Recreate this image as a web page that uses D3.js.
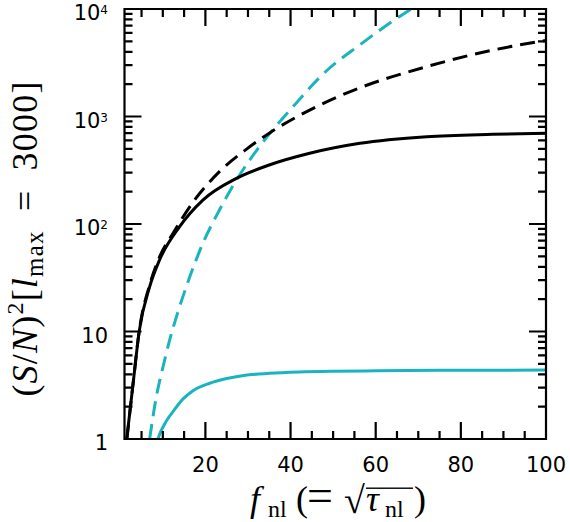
<!DOCTYPE html>
<html>
<head>
<meta charset="utf-8">
<script src="https://cdn.jsdelivr.net/npm/d3@7"></script>
<style>
  html, body { margin: 0; padding: 0; background: #fff; }
  svg { display: block; }
</style>
</head>
<body>
<svg id="chart" width="570" height="522"></svg>
<script>
// ---------------- data ----------------
const xTickValues = [20, 40, 60, 80, 100];
const xTickLabels = ["20", "40", "60", "80", "100"];
const yTickValues = [1, 10, 100, 1000, 10000];
const yTickBase = ["1", "10", "10", "10", "10"];
const yTickExp = ["", "", "2", "3", "4"];
const xMajorTicks = [20, 40, 60, 80];
const xMinorTicks = [5, 10, 15, 25, 30, 35, 45, 50, 55, 65, 70, 75, 85, 90, 95];
const yMajorTicks = [10, 100, 1000];

const blackSolidF = [1.55, 1.95, 2.95, 4.5, 6.9, 9.2, 13.9, 19.4, 27.3, 35, 44.5, 56.3, 72, 87.5, 100];
const blackSolidV = [1, 1.4, 3.1, 10.3, 26, 46, 94, 167, 266, 354, 455, 563, 649, 683, 700];
const blackDashF = [1.55, 2.95, 4.5, 6.9, 9.2, 12.4, 17.1, 23.3, 29.6, 35, 44.5, 56.3, 71.9, 87.6, 100];
const blackDashV = [1, 3.1, 10.4, 27, 49, 82, 160, 307, 495, 700, 1148, 1850, 2904, 4155, 5100];
const cyanDashF = [6.9, 8.5, 10, 11.6, 13.5, 15.5, 19.4, 23.3, 27.3, 32.7, 40.6, 48.4, 56.3, 62, 68.5];
const cyanDashV = [1, 2.5, 4.6, 8.3, 15, 26, 66, 135, 257, 525, 1235, 2650, 4650, 6800, 10100];
const cyanSolidF = [8.85, 9.5, 10.3, 11.2, 12.4, 14.7, 17, 21, 25, 29, 35, 42, 50, 60, 75, 100];
const cyanSolidV = [1, 1.17, 1.35, 1.55, 1.8, 2.35, 2.8, 3.3, 3.65, 3.9, 4.08, 4.2, 4.27, 4.31, 4.35, 4.38];

const L = 124.5, R = 546, T = 9, B = 439;
const CYAN = "#1ab4bf";
const svg = d3.select("#chart");

const x = d3.scaleLinear().domain([1, 100]).range([L, R]);
const y = d3.scaleLog().domain([1, 10000]).range([B, T]);

// ---------------- curves (clipped) ----------------
svg.append("defs").append("clipPath").attr("id", "plotclip")
  .append("rect").attr("x", L).attr("y", T).attr("width", R - L).attr("height", B - T);

const line = d3.line()
  .x(d => x(d[0]))
  .y(d => y(d[1]))
  .curve(d3.curveMonotoneX);
const plotG = svg.append("g").attr("clip-path", "url(#plotclip)").attr("fill", "none");

const series = [
  { f: cyanSolidF, v: cyanSolidV, color: CYAN, dash: null },
  { f: cyanDashF, v: cyanDashV, color: CYAN, dash: "15,8" },
  { f: blackSolidF, v: blackSolidV, color: "#000", dash: null },
  { f: blackDashF, v: blackDashV, color: "#000", dash: "15,8" }
];
series.forEach(s => {
  plotG.append("path")
    .datum(s.f.map((f, i) => [f, s.v[i]]))
    .attr("d", line)
    .attr("stroke", s.color)
    .attr("stroke-width", 3)
    .attr("stroke-dasharray", s.dash)
    .attr("stroke-linecap", "butt");
});

// ---------------- frame + ticks in one path ----------------
const MAJ = 17, MIN = 8;
const yMinorTicks = [];
yMajorTicks.concat([1]).sort((a, b) => a - b).forEach(d => {
  for (let k = 2; k <= 9; k++) yMinorTicks.push(d * k);
});
let dStr = `M${L},${T}H${R}V${B}H${L}Z`;
xMajorTicks.forEach(v => { dStr += `M${x(v)},${B}v${-MAJ}M${x(v)},${T}v${MAJ}`; });
xMinorTicks.forEach(v => { dStr += `M${x(v)},${B}v${-MIN}M${x(v)},${T}v${MIN}`; });
yMajorTicks.forEach(v => { dStr += `M${L},${y(v)}h${MAJ}M${R},${y(v)}h${-MAJ}`; });
yMinorTicks.forEach(v => { dStr += `M${L},${y(v)}h${MIN}M${R},${y(v)}h${-MIN}`; });
svg.append("path").attr("d", dStr)
  .attr("fill", "none").attr("stroke", "#000").attr("stroke-width", 2.2);

// ---------------- tick labels ----------------
const tickFont = "'DejaVu Sans', sans-serif";
svg.append("g").selectAll("text").data(xTickValues).join("text")
  .attr("x", d => x(d)).attr("y", 472)
  .attr("text-anchor", "middle")
  .attr("font-family", tickFont).attr("font-size", 21)
  .text((d, i) => xTickLabels[i]);

const yl = svg.append("g").selectAll("text").data(yTickValues).join("text")
  .attr("x", 108).attr("y", d => y(d) + 11)
  .attr("text-anchor", "end")
  .attr("font-family", tickFont).attr("font-size", 21);
yl.append("tspan").text((d, i) => yTickBase[i]);
yl.append("tspan").attr("font-size", 12).attr("dy", -6).text((d, i) => yTickExp[i]);

// ---------------- axis titles ----------------
const serif = "'Liberation Serif', 'DejaVu Serif', serif";
const xt = svg.append("g").attr("font-family", serif);
xt.append("text").attr("x", 250).attr("y", 511).attr("font-size", 36).attr("font-style", "italic").text("f");
xt.append("text").attr("x", 268).attr("y", 517).attr("font-size", 24).text("nl");
xt.append("text").attr("x", 296).attr("y", 511).attr("font-size", 36).text("(");
xt.append("text").attr("x", 307).attr("y", 511).attr("font-size", 46).text("=");
xt.append("text").attr("x", 344).attr("y", 513).attr("font-size", 38).text("\u221A");
xt.append("text").attr("x", 366).attr("y", 511).attr("font-size", 36).attr("font-style", "italic").text("\u03C4");
xt.append("text").attr("x", 385).attr("y", 517).attr("font-size", 24).text("nl");
xt.append("text").attr("x", 414).attr("y", 511).attr("font-size", 36).text(")");
xt.append("rect").attr("x", 366).attr("y", 487.5).attr("width", 47).attr("height", 1.4).attr("fill", "#000");

const yt = svg.append("text")
  .attr("transform", "translate(37,238.5) rotate(-90)")
  .attr("text-anchor", "middle")
  .attr("font-family", serif).attr("font-size", 36)
  .attr("letter-spacing", 1.2);
yt.append("tspan").text("(");
yt.append("tspan").attr("font-style", "italic").text("S");
yt.append("tspan").text("/");
yt.append("tspan").attr("font-style", "italic").text("N");
yt.append("tspan").text(")");
yt.append("tspan").attr("font-size", 24).attr("dy", -14).text("2");
yt.append("tspan").attr("dy", 14).text("[");
yt.append("tspan").attr("font-style", "italic").text("l");
yt.append("tspan").attr("font-size", 25).attr("dy", 6).text("max");
yt.append("tspan").attr("dy", -6).text("\u2002=\u20023000]");
</script>
</body>
</html>
